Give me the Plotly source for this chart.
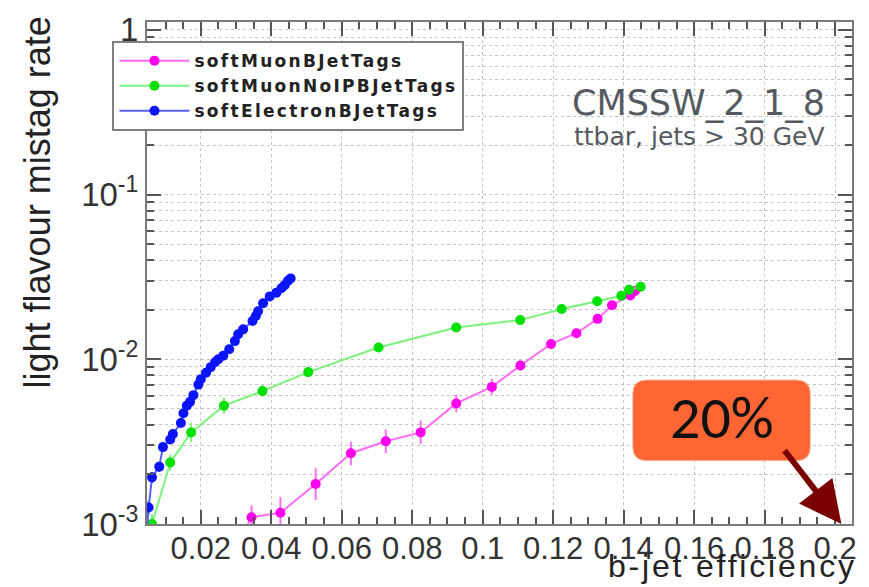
import plotly.graph_objects as go

# b-jet efficiency vs. light flavour mistag rate, CMSSW_2_1_8 ttbar sample

# softMuonBJetTags
muon_eff = [0.0311, 0.0344, 0.0426, 0.0526, 0.0626, 0.0725, 0.0824, 0.0925,
            0.1026, 0.1107, 0.1194, 0.1266, 0.1326, 0.1367, 0.1419, 0.1432]
muon_mis = [8.0e-4, 1.10e-3, 1.17e-3, 1.75e-3, 2.69e-3, 3.18e-3, 3.60e-3, 5.40e-3,
            6.80e-3, 9.17e-3, 1.24e-2, 1.44e-2, 1.76e-2, 2.13e-2, 2.44e-2, 2.60e-2]
muon_err_up = [1.0e-4, 2.0e-4, 2.9e-4, 4.3e-4, 4.8e-4, 5.7e-4, 6.5e-4, 7.1e-4,
               8.0e-4, 6.5e-4, 5.8e-4, 5.0e-4, 5.0e-4, 5.0e-4, 5.0e-4, 5.0e-4]
muon_err_dn = [1.0e-4, 1.7e-4, 2.3e-4, 3.5e-4, 4.1e-4, 4.9e-4, 5.5e-4, 6.3e-4,
               7.1e-4, 6.1e-4, 5.8e-4, 5.0e-4, 5.0e-4, 5.0e-4, 5.0e-4, 5.0e-4]

# softMuonNoIPBJetTags
noip_eff = [0.00616, 0.01133, 0.01726, 0.02658, 0.03751, 0.0505, 0.07044,
            0.09247, 0.11066, 0.12241, 0.13249, 0.13935, 0.14153, 0.14483]
noip_mis = [1.00e-3, 2.36e-3, 3.60e-3, 5.23e-3, 6.41e-3, 8.36e-3, 1.18e-2,
            1.56e-2, 1.73e-2, 2.02e-2, 2.25e-2, 2.43e-2, 2.64e-2, 2.76e-2]
noip_err_up = [1.5e-4, 2.8e-4, 5.1e-4, 6.1e-4, 5.5e-4, 4.5e-4, 4.5e-4,
               5.0e-4, 5.0e-4, 5.0e-4, 5.0e-4, 5.0e-4, 5.0e-4, 5.0e-4]
noip_err_dn = [1.5e-4, 2.5e-4, 4.5e-4, 5.5e-4, 5.1e-4, 4.5e-4, 4.5e-4,
               5.0e-4, 5.0e-4, 5.0e-4, 5.0e-4, 5.0e-4, 5.0e-4, 5.0e-4]

# softElectronBJetTags
ele_eff = [0.00470, 0.00520, 0.00616, 0.00822, 0.00926, 0.01133, 0.01209, 0.01435,
           0.01508, 0.01604, 0.01697, 0.01791, 0.01932, 0.02000, 0.02149, 0.02282,
           0.02404, 0.02497, 0.02638, 0.02807, 0.02968, 0.03062, 0.03203, 0.03468,
           0.03562, 0.03626, 0.03768, 0.03957, 0.04146, 0.04287, 0.04381, 0.04474,
           0.04550]
ele_mis = [9.0e-4, 1.26e-3, 1.92e-3, 2.23e-3, 2.93e-3, 3.26e-3, 3.52e-3, 4.10e-3,
           4.70e-3, 5.23e-3, 5.53e-3, 6.06e-3, 7.02e-3, 7.56e-3, 8.28e-3, 8.96e-3,
           9.60e-3, 1.00e-2, 1.05e-2, 1.15e-2, 1.29e-2, 1.42e-2, 1.52e-2, 1.71e-2,
           1.83e-2, 1.96e-2, 2.19e-2, 2.41e-2, 2.54e-2, 2.70e-2, 2.82e-2, 3.00e-2,
           3.10e-2]
ele_err = [1.0e-4, 1.2e-4, 1.5e-4, 1.6e-4, 1.8e-4, 1.9e-4, 2.0e-4, 2.1e-4,
           2.2e-4, 2.3e-4, 2.4e-4, 2.5e-4, 2.6e-4, 2.7e-4, 2.8e-4, 2.9e-4,
           3.0e-4, 3.0e-4, 3.1e-4, 3.2e-4, 3.3e-4, 3.4e-4, 3.5e-4, 3.6e-4,
           3.7e-4, 3.8e-4, 3.9e-4, 4.0e-4, 4.1e-4, 4.2e-4, 4.3e-4, 4.4e-4,
           4.5e-4]

x_tickvals = [0.02, 0.04, 0.06, 0.08, 0.10, 0.12, 0.14, 0.16, 0.18, 0.20]
x_ticktext = ["0.02", "0.04", "0.06", "0.08", "0.1", "0.12", "0.14", "0.16", "0.18", "0.2"]
y_tickvals = [1e-3, 1e-2, 1e-1, 1]
y_ticktext = ["10<sup>-3</sup>", "10<sup>-2</sup>", "10<sup>-1</sup>", "1"]
y_minor = [m * 10.0 ** e for e in (-3, -2, -1) for m in range(2, 10)]

fig = go.Figure()


def spaced(text, px):
    return f"<span style='letter-spacing:{px}px'>{text}</span>"


def add_graph(name, x, y, eup, edn, line_col, mark_col, msize):
    fig.add_trace(go.Scatter(
        x=x, y=y, name=spaced(name, 2.3), mode="lines+markers",
        line=dict(color=line_col, width=2),
        marker=dict(color=mark_col, size=msize, symbol="circle"),
        error_y=dict(type="data", symmetric=False, array=eup, arrayminus=edn,
                     color=line_col, thickness=2, width=0),
    ))


add_graph("softMuonBJetTags", muon_eff, muon_mis, muon_err_up, muon_err_dn,
          "#ff6ef5", "#ff00ee", 10)
add_graph("softMuonNoIPBJetTags", noip_eff, noip_mis, noip_err_up, noip_err_dn,
          "#7cf27c", "#00e000", 10)
add_graph("softElectronBJetTags", ele_eff, ele_mis, ele_err, ele_err,
          "#5560ff", "#0a14ff", 10)

grid_col = "#c4c4c4"
frame_col = "#7a7a7a"
tick_font = dict(family="Liberation Sans, Arial, sans-serif", size=31, color="#333")

fig.update_xaxes(
    range=[0.00474, 0.2048], tickmode="array", tickvals=x_tickvals, ticktext=x_ticktext,
    ticks="inside", ticklen=14, tickwidth=1.5, tickcolor="#555",
    showline=True, linecolor=frame_col, linewidth=2, mirror="allticks",
    showgrid=True, gridcolor=grid_col, griddash="dot", gridwidth=1,
    minor=dict(tick0=0, dtick=0.005, ticks="inside", ticklen=7, tickcolor="#555",
               showgrid=False),
    zeroline=False, tickfont=tick_font, ticklabelstandoff=-4,
)
fig.update_yaxes(
    type="log", range=[-3, 0.048], tickmode="array", tickvals=y_tickvals, ticktext=y_ticktext,
    ticks="inside", ticklen=14, tickwidth=1.5, tickcolor="#555",
    showline=True, linecolor=frame_col, linewidth=2, mirror="allticks",
    showgrid=True, gridcolor=grid_col, griddash="dot", gridwidth=1,
    minor=dict(tickmode="array", tickvals=y_minor, ticks="inside", ticklen=7,
               tickcolor="#555", showgrid=True, gridcolor=grid_col, griddash="dot"),
    zeroline=False, tickfont=dict(tick_font, size=33),
)

# rounded orange label box drawn in paper coordinates
bx0, bx1, by0, by1 = 0.689, 0.941, 0.126, 0.287
rx, ry = 0.02, 0.028
box_path = (f"M {bx0 + rx},{by0} L {bx1 - rx},{by0} Q {bx1},{by0} {bx1},{by0 + ry} "
            f"L {bx1},{by1 - ry} Q {bx1},{by1} {bx1 - rx},{by1} "
            f"L {bx0 + rx},{by1} Q {bx0},{by1} {bx0},{by1 - ry} "
            f"L {bx0},{by0 + ry} Q {bx0},{by0} {bx0 + rx},{by0} Z")
fig.add_shape(type="path", path=box_path, xref="paper", yref="paper",
              fillcolor="#ff6633", line=dict(color="#f2c2a8", width=1), layer="above")

annotations = [
    dict(text="20%", x=(bx0 + bx1) / 2, y=(by0 + by1) / 2 + 0.005, xref="paper", yref="paper",
         xanchor="center", yanchor="middle", showarrow=False,
         font=dict(family="Carlito, Liberation Sans, sans-serif", size=60, color="#111")),
    dict(text="", x=0.985, y=0.0, xref="paper", yref="paper", showarrow=True,
         ax=-58, ay=-75, arrowhead=2, arrowsize=1.4, arrowwidth=6,
         arrowcolor="#7a0000", standoff=0),
    dict(text="CMSSW_2_1_8", x=0.965, y=0.838, xref="paper", yref="paper",
         xanchor="right", yanchor="middle", showarrow=False,
         font=dict(family="DejaVu Sans, sans-serif", size=35, color="#555a60")),
    dict(text="ttbar, jets &gt; 30 GeV", x=0.965, y=0.772, xref="paper", yref="paper",
         xanchor="right", yanchor="middle", showarrow=False,
         font=dict(family="DejaVu Sans, sans-serif", size=25, color="#555a60")),
    dict(text=spaced("b-jet efficiency", 2.8), x=1.01, y=-0.1238, xref="paper", yref="paper",
         xanchor="right", yanchor="bottom", showarrow=False,
         font=dict(family="Liberation Sans, Arial, sans-serif", size=32, color="#222")),
    dict(text="light flavour mistag rate", x=-0.155, y=0.64, xref="paper", yref="paper",
         xanchor="center", yanchor="middle", textangle=-90, showarrow=False,
         font=dict(family="Liberation Sans, Arial, sans-serif", size=36, color="#222")),
]

fig.update_layout(
    width=869, height=587,
    margin=dict(l=147, r=14, t=15, b=63),
    paper_bgcolor="white", plot_bgcolor="white",
    showlegend=True,
    legend=dict(x=-0.049, y=0.962, xanchor="left", yanchor="top",
                bgcolor="white", bordercolor="#808080", borderwidth=2,
                font=dict(family="DejaVu Sans, sans-serif", size=17, color="#222",
                          weight="bold"),
                itemwidth=70, tracegroupgap=0),
    annotations=annotations,
)

fig.write_html("out.html")
